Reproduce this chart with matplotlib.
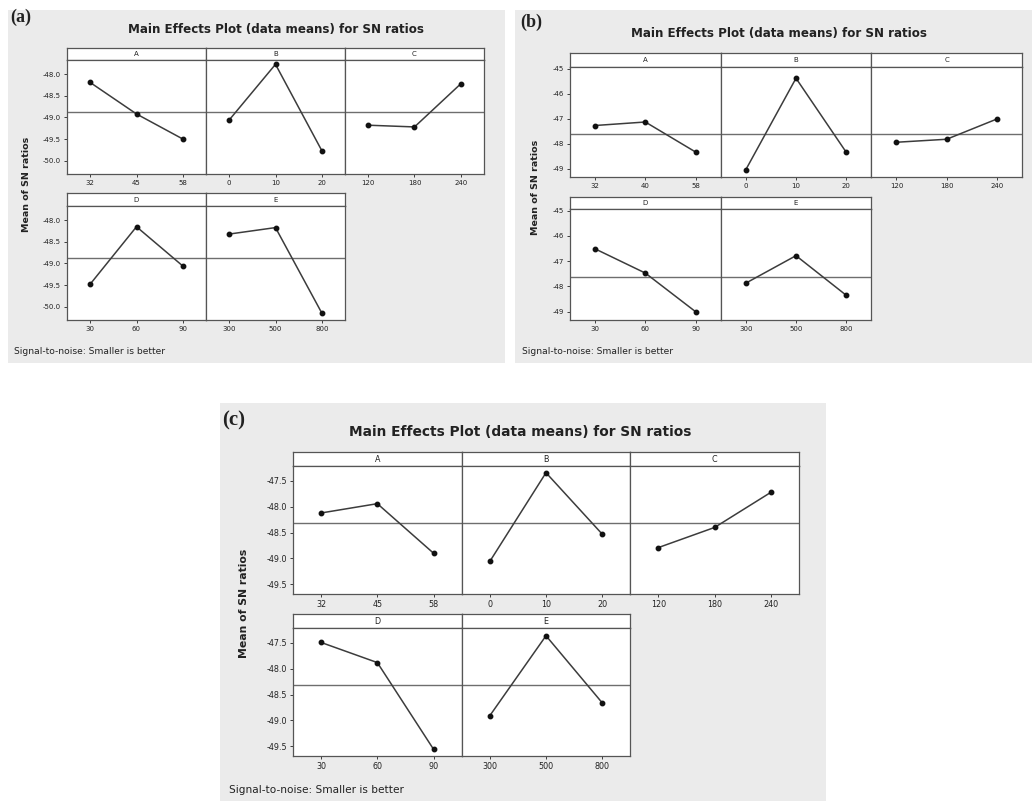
import matplotlib.pyplot as plt
from matplotlib.patches import Rectangle
import numpy as np

# factor names and levels for every panel
factors = ["A", "B", "C", "D", "E"]
levels_a = [["32", "45", "58"], ["0", "10", "20"], ["120", "180", "240"],
            ["30", "60", "90"], ["300", "500", "800"]]
levels_b = [["32", "40", "58"], ["0", "10", "20"], ["120", "180", "240"],
            ["30", "60", "90"], ["300", "500", "800"]]
levels_c = levels_a

# mean SN ratios (A..E, three levels each)
sn_a = [[-48.19, -48.92, -49.50], [-49.06, -47.77, -49.77], [-49.18, -49.22, -48.22],
        [-49.48, -48.15, -49.06], [-48.32, -48.17, -50.15]]
sn_b = [[-47.27, -47.13, -48.33], [-49.04, -45.38, -48.34], [-47.94, -47.82, -47.01],
        [-46.51, -47.47, -49.00], [-47.87, -46.78, -48.35]]
sn_c = [[-48.12, -47.94, -48.90], [-49.06, -47.34, -48.53], [-48.79, -48.40, -47.72],
        [-47.49, -47.88, -49.56], [-48.91, -47.36, -48.66]]

yticks_a = [-48.0, -48.5, -49.0, -49.5, -50.0]
yticks_b = [-45, -46, -47, -48, -49]
yticks_c = [-47.5, -48.0, -48.5, -49.0, -49.5]

W, H = 1032, 801
fig = plt.figure(figsize=(W / 100, H / 100), dpi=100)
fig.patch.set_facecolor("white")

LINE = "#3c3c3c"
TXT = "#222222"


def rect(x0, y0, x1, y1):
    # pixel box (top-left origin) -> figure fraction [l, b, w, h]
    return [x0 / W, 1 - y1 / H, (x1 - x0) / W, (y1 - y0) / H]


def draw_panel(tag, levels, sn, yticks, yfmt, ylim, g):
    bx0, by0, bx1, by1 = g["bg"]
    fig.add_artist(Rectangle((bx0 / W, 1 - by1 / H), (bx1 - bx0) / W, (by1 - by0) / H,
                             transform=fig.transFigure, facecolor="#ebebeb",
                             edgecolor="none", zorder=-5))
    fs = g["fs"]
    fig.text(g["tag"][0] / W, 1 - g["tag"][1] / H, tag, family="Liberation Serif",
             weight="bold", fontsize=13 * fs, va="center", ha="left", color=TXT)
    fig.text(g["title"][0] / W, 1 - g["title"][1] / H,
             "Main Effects Plot (data means) for SN ratios", weight="bold",
             fontsize=8.6 * fs, ha="center", va="center", color=TXT)
    fig.text(g["ylab"][0] / W, 1 - g["ylab"][1] / H, "Mean of SN ratios", weight="bold",
             fontsize=6.8 * fs, rotation=90, ha="center", va="center", color=TXT)
    fig.text(g["note"][0] / W, 1 - g["note"][1] / H, "Signal-to-noise: Smaller is better",
             fontsize=6.6 * fs, ha="left", va="center", color=TXT)

    grand = np.mean(sn)
    wd = (g["right"] - g["left"]) / 3
    x = np.arange(3)
    for i, name in enumerate(factors):
        row, col = divmod(i, 3)
        st, pt, pb = g["rows"][row]
        x0 = g["left"] + col * wd
        strip = fig.add_axes(rect(x0, st, x0 + wd, pt))
        strip.set_xticks([])
        strip.set_yticks([])
        strip.text(0.5, 0.5, name, fontsize=5 * fs, ha="center", va="center", color=TXT)
        ax = fig.add_axes(rect(x0, pt, x0 + wd, pb))
        ax.axhline(grand, color="#6e6e6e", lw=1.0, zorder=1)
        ax.plot(x, sn[i], color=LINE, lw=1.1, marker="o", ms=3.2,
                mfc="#111111", mec="#111111", zorder=3)
        ax.set_xlim(-0.5, 2.5)
        ax.set_ylim(*ylim)
        ax.set_xticks(x, levels[i])
        ax.set_yticks(yticks, [yfmt.format(v) for v in yticks])
        ax.tick_params(length=2.5, width=0.6, labelsize=5 * fs, colors=TXT, pad=2)
        if col > 0:
            ax.tick_params(left=False, labelleft=False)
        for a in (ax, strip):
            for s in a.spines.values():
                s.set_color("#555555")
                s.set_linewidth(0.9)


geo_a = dict(bg=(8, 10, 505, 363), left=67, right=484,
             rows=[(48, 60, 174), (193, 206, 320)],
             tag=(10, 17), title=(276, 30), ylab=(27, 184), note=(14, 352), fs=1.0)
geo_b = dict(bg=(515, 10, 1032, 363), left=570, right=1022,
             rows=[(53, 67, 177), (197, 209, 320)],
             tag=(520, 22), title=(779, 33), ylab=(535, 187), note=(522, 352), fs=1.0)
geo_c = dict(bg=(220, 403, 826, 801), left=293, right=799,
             rows=[(452, 466, 594), (614, 628, 756)],
             tag=(222, 420), title=(520, 432), ylab=(244, 603), note=(229, 790), fs=1.15)

draw_panel("(a)", levels_a, sn_a, yticks_a, "{:.1f}", (-50.31, -47.67), geo_a)
draw_panel("(b)", levels_b, sn_b, yticks_b, "{:.0f}", (-49.33, -44.93), geo_b)
draw_panel("(c)", levels_c, sn_c, yticks_c, "{:.1f}", (-49.69, -47.21), geo_c)

fig.savefig("out.png", dpi=100)
